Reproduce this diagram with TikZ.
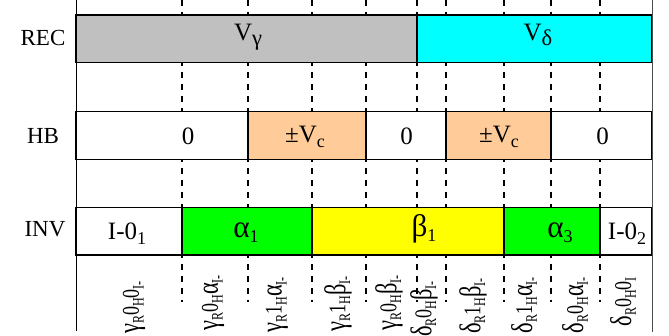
\documentclass[tikz,border=0pt]{standalone}
\usepackage{fontspec}
\setmainfont{Liberation Serif}
\usepackage{graphicx}
\newcommand\lsub[1]{\raisebox{-0.2em}{\fontsize{18}{18}\selectfont #1}}
\newcommand\tsub[1]{\raisebox{-0.2em}{\fontsize{16}{16}\selectfont #1}}
\newcommand\gk[1]{\scalebox{1.25}{#1}}
\newcommand\lab[1]{\scalebox{0.75}[1]{#1}}
\definecolor{recgray}{HTML}{C0C0C0}
\definecolor{reccyan}{HTML}{00FFFF}
\definecolor{peach}{HTML}{FFCC99}
\definecolor{grn}{HTML}{00FF00}
\definecolor{yel}{HTML}{FFFF00}
\begin{document}
\begin{tikzpicture}[x=1pt,y=-1pt,font=\fontsize{23}{27}\selectfont,
  guide/.style={draw=black,line width=1.5pt,dash pattern=on 6pt off 6pt},
  cell/.style={draw=black,line width=1.4pt,anchor=north west,inner sep=0pt,outer sep=0pt},
  txt/.style={anchor=base,inner sep=0pt,font=\fontsize{25}{29}\selectfont},
  ttl/.style={anchor=base,inner sep=0pt},
  lbl/.style={anchor=east,rotate=90,inner sep=0pt,font=\fontsize{24}{26}\selectfont},
  frame/.style={draw=black,line width=1.2pt}]
\useasboundingbox (0,0) rectangle (669,335);
% vertical guides
\foreach \x/\n in {182/g1,248/g2,312/g3,366/g4,417/g5,446/g6,504/g7,551/g8,600/g9}{
  \coordinate (\n t) at (\x,0);
  \coordinate (\n b) at (\x,302);
  \draw[guide] (\n t) -- (\n b);
}
% REC row
\node[cell,fill=recgray,minimum width=341pt,minimum height=47.7pt] (vg) at (76,15) {};
\node[cell,fill=reccyan,minimum width=235pt,minimum height=47.7pt] (vd) at (417,15) {};
% HB row
\node[cell,fill=white,minimum width=172pt,minimum height=47.6pt] (hb1) at (76,111.7) {};
\node[cell,fill=peach,minimum width=118pt,minimum height=47.6pt] (hb2) at (248,111.7) {};
\node[cell,fill=white,minimum width=80pt,minimum height=47.6pt] (hb3) at (366,111.7) {};
\node[cell,fill=peach,minimum width=105pt,minimum height=47.6pt] (hb4) at (446,111.7) {};
\node[cell,fill=white,minimum width=101pt,minimum height=47.6pt] (hb5) at (551,111.7) {};
% INV row
\node[cell,fill=white,minimum width=106pt,minimum height=47.7pt] (in1) at (76,207.3) {};
\node[cell,fill=grn,minimum width=130pt,minimum height=47.7pt] (in2) at (182,207.3) {};
\node[cell,fill=yel,minimum width=192pt,minimum height=47.7pt] (in3) at (312,207.3) {};
\node[cell,fill=grn,minimum width=96pt,minimum height=47.7pt] (in4) at (504,207.3) {};
\node[cell,fill=white,minimum width=52pt,minimum height=47.7pt] (in5) at (600,207.3) {};
% frame
\coordinate (fl1) at (76.5,0); \coordinate (fl2) at (76.5,331);
\coordinate (fr1) at (652.5,0); \coordinate (fr2) at (652.5,332);
\draw[frame] (fl1) -- (fl2);
\draw[frame,draw=black!70] (fr1) -- (fr2);
% row titles
\node[ttl] (trec) at (43,45) {REC};
\node[ttl] (thb) at (43,143.5) {HB};
\node[ttl] (tinv) at (45,236.7) {INV};
% texts
\node[txt] (tvg) at (248,40) {V\lsub{\gk{γ}}};
\node[txt] (tvd) at (538,40) {V\lsub{\gk{δ}}};
\node[txt] (th1) at (188,144) {0};
\node[txt] (th2) at (305,142) {±V\lsub{c}};
\node[txt] (th3) at (406.5,144) {0};
\node[txt] (th4) at (499,142) {±V\lsub{c}};
\node[txt] (th5) at (602.5,144) {0};
\node[txt] (ti1) at (127,239) {I-0\lsub{1}};
\node[txt] (ti2) at (246,237) {\gk{α}\lsub{1}};
\node[txt] (ti3) at (424,236) {\gk{β}\lsub{1}};
\node[txt] (ti4) at (560,237) {\gk{α}\lsub{3}};
\node[txt] (ti5) at (627,239) {I-0\lsub{2}};
% state labels
\node[lbl] (s1) at (134,281) {\lab{\gk{γ}\tsub{R}0\tsub{H}0\tsub{I-}}};
\node[lbl] (s2) at (213,275) {\lab{\gk{γ}\tsub{R}0\tsub{H}\gk{α}\tsub{I-}}};
\node[lbl] (s3) at (277,277) {\lab{\gk{γ}\tsub{R}1\tsub{H}\gk{α}\tsub{I-}}};
\node[lbl] (s4) at (338,276) {\lab{\gk{γ}\tsub{R}1\tsub{H}\gk{β}\tsub{I-}}};
\node[lbl] (s5) at (389,275) {\lab{\gk{γ}\tsub{R}0\tsub{H}\gk{β}\tsub{I-}}};
\node[lbl] (s6) at (424,281) {\lab{\gk{δ}\tsub{R}0\tsub{H}\gk{β}\tsub{I-}}};
\node[lbl] (s7) at (473,278) {\lab{\gk{δ}\tsub{R}1\tsub{H}\gk{β}\tsub{I-}}};
\node[lbl] (s8) at (524,277) {\lab{\gk{δ}\tsub{R}1\tsub{H}\gk{α}\tsub{I-}}};
\node[lbl] (s9) at (575,277) {\lab{\gk{δ}\tsub{R}0\tsub{H}\gk{α}\tsub{I-}}};
\node[lbl] (s10) at (623,277) {\lab{\gk{δ}\tsub{R}0\tsub{H}0\tsub{I}}};
\end{tikzpicture}
\end{document}
